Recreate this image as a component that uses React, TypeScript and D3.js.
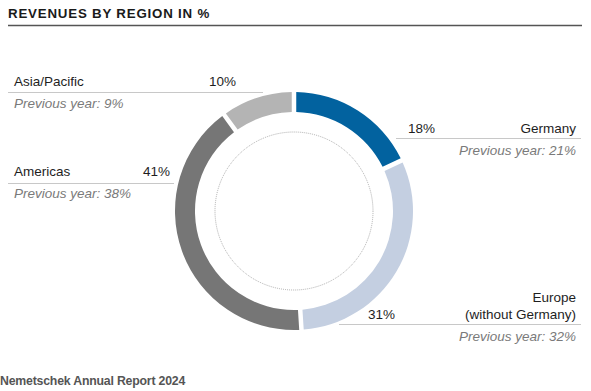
import React from "react";
import * as d3 from "d3";

const regions = ["Germany", "Europe (without Germany)", "Americas", "Asia/Pacific"];
const shares = [18, 31, 41, 10];
const previousYear = [21, 32, 38, 9];
const colors = ["#02629f", "#c4cfe1", "#767676", "#b4b4b4"];

const W = 591;
const H = 391;
const cx = 294;
const cy = 211;
const outerR = 119;
const innerR = 99;

const App = () => {
  const pie = d3.pie<number>().value((d) => d).sort(null);
  const arcs = pie(shares);
  const arc = d3
    .arc<d3.PieArcDatum<number>>()
    .innerRadius(innerR)
    .outerRadius(outerR)
    .padAngle(4.5 / outerR)
    .padRadius(outerR);

  const font = "'Liberation Sans', Arial, sans-serif";
  const txt = "#1e1e1e";
  const sub = "#7a7a7a";
  const rule = "#c8c8c8";
  const fs = 13.5;

  return (
    <svg width={W} height={H} style={{ position: "absolute", left: 0, top: 0 }} fontFamily={font}>
      <text x={8} y={18} fontSize={13.3} fontWeight={900} letterSpacing={0.8} fill="#1a1a1a">
        REVENUES BY REGION IN %
      </text>
      <line x1={8} x2={582} y1={25.5} y2={25.5} stroke="#555" strokeWidth={1.5} />

      <g transform={`translate(${cx},${cy})`}>
        {arcs.map((a, i) => (
          <path key={regions[i]} d={arc(a) || ""} fill={colors[i]} />
        ))}
        <circle r={79} fill="none" stroke="#9a9a9a" strokeWidth={0.8} strokeDasharray="1 1" />
      </g>

      {/* Asia/Pacific */}
      <text x={14} y={86} fontSize={fs} fill={txt}>{regions[3]}</text>
      <text x={236} y={86} fontSize={fs} fill={txt} textAnchor="end">{shares[3]}%</text>
      <line x1={8} x2={263} y1={92.5} y2={92.5} stroke={rule} strokeWidth={1.2} />
      <text x={14} y={108} fontSize={fs} fontStyle="italic" fill={sub}>Previous year: {previousYear[3]}%</text>

      {/* Americas */}
      <text x={14} y={176} fontSize={fs} fill={txt}>{regions[2]}</text>
      <text x={170} y={176} fontSize={fs} fill={txt} textAnchor="end">{shares[2]}%</text>
      <line x1={8} x2={174} y1={183.5} y2={183.5} stroke={rule} strokeWidth={1.2} />
      <text x={14} y={198} fontSize={fs} fontStyle="italic" fill={sub}>Previous year: {previousYear[2]}%</text>

      {/* Germany */}
      <text x={408} y={133} fontSize={fs} fill={txt}>{shares[0]}%</text>
      <text x={576} y={133} fontSize={fs} fill={txt} textAnchor="end">{regions[0]}</text>
      <line x1={396} x2={581} y1={138.5} y2={138.5} stroke={rule} strokeWidth={1.2} />
      <text x={576} y={155} fontSize={fs} fontStyle="italic" fill={sub} textAnchor="end">Previous year: {previousYear[0]}%</text>

      {/* Europe */}
      <text x={576} y={302} fontSize={fs} fill={txt} textAnchor="end">Europe</text>
      <text x={576} y={319} fontSize={fs} fill={txt} textAnchor="end">(without Germany)</text>
      <text x={368} y={319} fontSize={fs} fill={txt}>{shares[1]}%</text>
      <line x1={339} x2={581} y1={324.5} y2={324.5} stroke={rule} strokeWidth={1.2} />
      <text x={576} y={341} fontSize={fs} fontStyle="italic" fill={sub} textAnchor="end">Previous year: {previousYear[1]}%</text>

      <text x={0} y={385} fontSize={12.3} fontWeight="bold" fill="#555" letterSpacing={-0.2}>
        Nemetschek Annual Report 2024
      </text>
    </svg>
  );
};

export default App;
